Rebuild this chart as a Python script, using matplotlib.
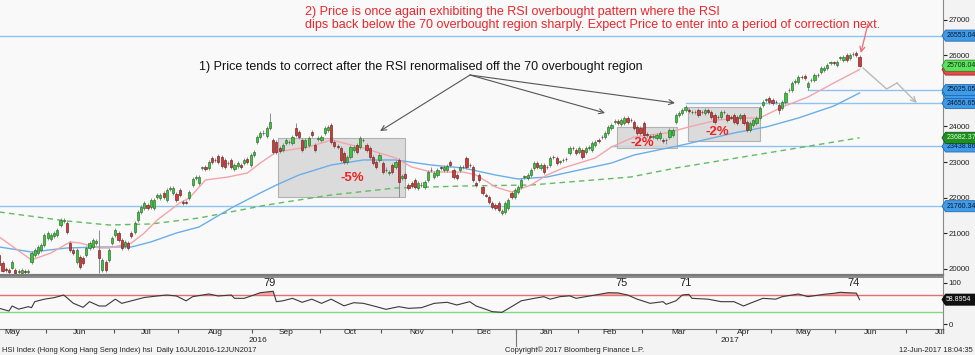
import numpy as np
import pandas as pd
import matplotlib
matplotlib.use('Agg')
import matplotlib.pyplot as plt
from matplotlib.path import Path
import matplotlib.transforms as mtrans

# ---------------- data ----------------
opens = [20390, 20170, 19990, 19960, 20030, 19970, 19920, 19890, 19930, 19910,
         20190, 20390, 20450, 20530, 20670, 20870, 20840, 20920, 20950, 21230,
         21350, 21290, 20730, 20530, 20190, 20330, 20310, 20390, 20590, 20620,
         20730, 20530, 19970, 20190, 20250, 20730, 20950, 21010, 20810, 20640,
         20730, 21010, 21040, 21370, 21600, 21710, 21800, 21740, 21710, 22020,
         21990, 22130, 21940, 22240, 22130, 22100, 22220, 21870, 21880, 21990,
         22360, 22550, 22410, 22830, 22860, 22830, 23110, 23060, 23170, 23140,
         23060, 22970, 23060, 22810, 22890, 22920, 22970, 23090, 22920, 23200,
         23560, 23700, 23810, 23730, 23960, 23620, 23560, 23400, 23340, 23540,
         23570, 23540, 23960, 23850, 23620, 23420, 23480, 23850, 23480, 23650,
         23620, 23820, 23900, 24040, 23560, 23440, 23400, 23260, 23000, 23140,
         23340, 23480, 23420, 23630, 23480, 23400, 23140, 23000, 23060, 22970,
         22790, 22690, 22920, 22860, 23060, 22550, 22670, 22360, 22410, 22500,
         22270, 22370, 22300, 22500, 22790, 22580, 22640, 22840, 22780, 22780,
         23000, 22780, 22640, 22780, 22870, 23120, 22920, 22860, 22410, 22640,
         22300, 22080, 22020, 21850, 21800, 21850, 21570, 21600, 21710, 22130,
         22020, 22160, 22300, 22580, 22550, 22640, 22830, 22970, 22830, 22920,
         22870, 22920, 23140, 23110, 23000, 23060, 23090, 23260, 23400, 23340,
         23280, 23340, 23280, 23390, 23340, 23480, 23620, 23710, 23700, 23820,
         23960, 24130, 24150, 24070, 24100, 24240, 24190, 24130, 23990, 23960,
         24100, 23780, 23720, 23700, 23680, 23680, 23620, 23630, 23700, 23760,
         24130, 24320, 24380, 24460, 24460, 24410, 24400, 24460, 24410, 24380,
         24460, 24410, 24320, 24270, 24270, 24410, 24320, 24270, 24320, 24270,
         24240, 24320, 24130, 23900, 24040, 24100, 24240, 24600, 24740, 24800,
         24740, 24690, 24600, 24520, 24690, 25020, 25020, 25250, 25250, 25390,
         25420, 25110, 25300, 25300, 25450, 25530, 25590, 25640, 25780, 25790,
         25730, 25920, 25870, 26010, 25920, 26030, 26060, 25950]

closes = [20110, 19950, 19960, 19910, 20190, 19890, 19940, 19970, 19910, 19940,
          20450, 20530, 20610, 20670, 20950, 21010, 20950, 21010, 21090, 21370,
          21370, 21040, 20530, 20450, 20530, 20050, 20170, 20590, 20730, 20810,
          20780, 20310, 20250, 19970, 20530, 20870, 21090, 20810, 20590, 20760,
          20590, 20920, 21290, 21600, 21740, 21850, 21710, 21940, 21940, 22080,
          22080, 22020, 22220, 22270, 22270, 21940, 22080, 21840, 21860, 22160,
          22530, 22570, 22580, 22840, 22810, 23000, 23000, 23050, 23000, 22890,
          22860, 22980, 22860, 22920, 22970, 22860, 23060, 23000, 23200, 23280,
          23700, 23820, 23830, 23960, 24130, 23280, 23280, 23300, 23480, 23620,
          23560, 23700, 23760, 23700, 23340, 23620, 23680, 23760, 23340, 23680,
          23700, 23960, 23990, 23560, 23450, 23420, 23060, 23000, 23140, 23420,
          23420, 23280, 23680, 23610, 23340, 23140, 22970, 22860, 23200, 22720,
          22770, 22720, 22720, 23000, 22440, 22610, 22550, 22270, 22330, 22300,
          22410, 22350, 22440, 22720, 22770, 22690, 22780, 22830, 22860, 22890,
          22920, 22580, 22550, 22860, 22850, 22860, 22910, 22500, 22360, 22500,
          22130, 22060, 21880, 21740, 21710, 21650, 21620, 21850, 21940, 22020,
          22220, 22300, 22500, 22590, 22640, 22780, 22970, 22860, 22920, 22720,
          22850, 23120, 23130, 22970, 23010, 23050, 23080, 23400, 23390, 23260,
          23400, 23140, 23400, 23430, 23540, 23560, 23590, 23700, 23820, 23990,
          24040, 24150, 24100, 24180, 24240, 24130, 24170, 23960, 23820, 23820,
          23760, 23750, 23700, 23730, 23760, 23820, 23590, 23610, 23900, 23900,
          24320, 24380, 24460, 24550, 24430, 24400, 24410, 24320, 24400, 24460,
          24410, 24270, 24130, 24260, 24410, 24400, 24180, 24250, 24130, 24100,
          24320, 24100, 23900, 24100, 24180, 24240, 24520, 24690, 24750, 24690,
          24660, 24680, 24460, 24690, 24940, 25030, 25220, 25280, 25390, 25380,
          25360, 25220, 25310, 25450, 25440, 25640, 25640, 25730, 25790, 25780,
          25810, 25930, 25950, 25870, 26010, 26040, 26010, 25708]

highs = [20450, 20230, 20060, 20020, 20240, 20030, 19990, 20030, 19990, 19990,
         20500, 20590, 20660, 20720, 21000, 21060, 21010, 21060, 21150, 21440,
         21430, 21340, 20790, 20590, 20580, 20390, 20370, 20640, 20780, 20860,
         20840, 21090, 20300, 20250, 20580, 20920, 21140, 21060, 20860, 20810,
         20780, 21070, 21340, 21650, 21790, 21900, 21850, 21990, 21990, 22140,
         22130, 22180, 22270, 22320, 22320, 22150, 22270, 21930, 21940, 22210,
         22580, 22630, 22630, 22900, 22920, 23050, 23160, 23120, 23220, 23190,
         23110, 23040, 23110, 22970, 23020, 22970, 23110, 23140, 23250, 23330,
         23750, 23870, 23890, 24010, 24380, 23670, 23610, 23450, 23530, 23670,
         23630, 23750, 24100, 23900, 23670, 23670, 23730, 23900, 23530, 23740,
         23750, 24010, 24040, 24090, 23610, 23500, 23450, 23310, 23190, 23470,
         23470, 23530, 23730, 23690, 23530, 23450, 23190, 23050, 23250, 23020,
         22850, 22780, 22970, 23050, 23110, 22660, 22720, 22410, 22460, 22550,
         22460, 22430, 22490, 22770, 22850, 22740, 22830, 22900, 22910, 22940,
         23050, 22830, 22690, 22910, 22930, 23170, 22980, 22910, 22470, 22690,
         22350, 22140, 22070, 21900, 21850, 21900, 21670, 21900, 21990, 22180,
         22270, 22350, 22550, 22650, 22690, 22830, 23020, 23020, 22970, 22970,
         22930, 23170, 23200, 23160, 23070, 23120, 23150, 23450, 23460, 23390,
         23450, 23390, 23450, 23490, 23590, 23610, 23680, 23770, 23870, 24040,
         24090, 24210, 24200, 24230, 24290, 24290, 24250, 24180, 24040, 24010,
         24150, 23840, 23780, 23790, 23810, 23870, 23680, 23690, 23950, 23950,
         24370, 24430, 24510, 24600, 24520, 24470, 24470, 24510, 24470, 24510,
         24510, 24460, 24370, 24330, 24460, 24470, 24370, 24330, 24370, 24320,
         24370, 24370, 24180, 24150, 24230, 24290, 24570, 24740, 24810, 24850,
         24790, 24750, 24650, 24740, 24990, 25090, 25270, 25330, 25440, 25450,
         25470, 25270, 25370, 25500, 25510, 25690, 25690, 25780, 25850, 25850,
         25860, 25990, 26000, 26060, 26060, 26100, 26110, 26000]

lows = [20060, 19900, 19900, 19860, 19990, 19840, 19870, 19850, 19860, 19850,
        20150, 20340, 20400, 20480, 20620, 20820, 20790, 20870, 20900, 21180,
        21290, 20990, 20470, 20390, 20130, 19990, 20110, 20340, 20540, 20570,
        20680, 19880, 19920, 19910, 20200, 20680, 20900, 20760, 20540, 20590,
        20540, 20870, 20990, 21320, 21550, 21660, 21660, 21690, 21660, 21970,
        21940, 21970, 21890, 22190, 22080, 21890, 22030, 21790, 21810, 21940,
        22310, 22500, 22360, 22780, 22760, 22780, 22950, 23000, 22950, 22840,
        22810, 22920, 22810, 22760, 22840, 22810, 22920, 22950, 22870, 23150,
        23510, 23650, 23760, 23680, 23910, 23230, 23230, 23250, 23290, 23490,
        23510, 23490, 23710, 23650, 23290, 23370, 23430, 23710, 23290, 23600,
        23570, 23770, 23850, 23510, 23400, 23370, 23010, 22950, 22950, 23090,
        23290, 23230, 23370, 23560, 23290, 23090, 22920, 22810, 23010, 22670,
        22720, 22640, 22670, 22810, 22020, 22500, 22500, 22220, 22280, 22250,
        22220, 22300, 22250, 22450, 22720, 22530, 22590, 22780, 22730, 22730,
        22870, 22530, 22500, 22730, 22800, 22810, 22860, 22450, 22310, 22450,
        22080, 22010, 21830, 21690, 21660, 21600, 21520, 21550, 21660, 21970,
        21970, 22110, 22250, 22530, 22500, 22590, 22780, 22810, 22780, 22670,
        22800, 22870, 23080, 22920, 22950, 23000, 23030, 23210, 23340, 23210,
        23230, 23090, 23230, 23340, 23290, 23430, 23540, 23650, 23650, 23770,
        23910, 24080, 24050, 24020, 24050, 24080, 24120, 23910, 23770, 23770,
        23710, 23700, 23650, 23650, 23630, 23630, 23540, 23500, 23650, 23710,
        24080, 24270, 24330, 24410, 24380, 24350, 24350, 24270, 24350, 24330,
        24360, 24220, 24080, 24210, 24220, 24350, 24130, 24200, 24080, 24050,
        24190, 24050, 23850, 23850, 23990, 24050, 24190, 24550, 24690, 24640,
        24610, 24630, 24360, 24470, 24640, 24970, 24970, 25200, 25200, 25330,
        25310, 25025, 25250, 25250, 25390, 25480, 25540, 25590, 25730, 25730,
        25680, 25870, 25820, 25820, 25870, 25980, 25960, 25670]

first_day = '2016-05-11'
hk_holidays = ['2016-05-02', '2016-06-09', '2016-07-01', '2016-09-16', '2016-10-10',
               '2016-10-21', '2016-12-26', '2016-12-27', '2017-01-02', '2017-01-30',
               '2017-01-31', '2017-04-04', '2017-04-14', '2017-04-17', '2017-05-01',
               '2017-05-03', '2017-05-30']

# moving averages (trading-day index, value)
ma_fast_idx = [0, 10, 16, 22, 25, 31, 34, 41, 45, 49, 56, 59, 64, 71, 77, 81, 86, 90, 96, 103,
               113, 123, 128, 134, 144, 148, 154, 159, 165, 170, 175, 180, 185, 190, 197, 207,
               214, 223, 231, 236, 243, 251, 259, 267]
ma_fast_val = [20896, 20250, 20446, 20755, 20727, 20587, 20587, 20727, 21008, 21373, 21851, 21991,
               22497, 22581, 22693, 22974, 23283, 23340, 23424, 23620, 23396, 23115, 22862, 22721,
               22721, 22637, 22300, 22160, 22356, 22637, 22834, 22974, 23115, 23424, 23705, 23817,
               23986, 24182, 24238, 24238, 24547, 24828, 25222, 25600]
ma_mid_idx = [0, 10, 21, 31, 41, 47, 55, 62, 72, 81, 86, 93, 103, 113, 123, 134, 144, 154, 161,
              170, 180, 190, 197, 212, 228, 238, 248, 259, 267]
ma_mid_val = [20615, 20474, 20587, 20615, 20615, 20755, 21008, 21177, 21710, 22132, 22356, 22637,
              22918, 23059, 23059, 22918, 22834, 22637, 22525, 22581, 22778, 22974, 23199, 23480,
              23817, 23986, 24238, 24575, 24941]
ma_slow_idx = [0, 21, 34, 47, 62, 83, 103, 123, 144, 165, 196, 210, 267]
ma_slow_val = [21598, 21345, 21233, 21261, 21429, 21795, 22076, 22272, 22328, 22356, 22581, 22834,
               23682.37]

rsi_idx = [0, 3, 4, 6, 9, 10, 11, 14, 17, 20, 23, 26, 28, 31, 33, 36, 38, 41, 45, 49, 52, 55, 58,
           60, 65, 68, 72, 73, 76, 79, 81, 85, 86, 88, 91, 94, 97, 100, 103, 107, 110, 113, 117,
           120, 124, 127, 131, 135, 139, 142, 146, 148, 151, 153, 156, 159, 162, 166, 169, 171,
           174, 177, 179, 182, 185, 189, 192, 195, 198, 202, 206, 207, 210, 212, 214, 215, 220,
           224, 228, 231, 233, 237, 241, 243, 248, 251, 256, 259, 261, 263, 266, 267]
rsi_val = [38, 31.6, 43.6, 36, 42, 39.6, 54, 60, 63.6, 70, 50, 40.5, 54, 43.6, 43.6, 60, 50, 56,
           64, 67.6, 70, 67.6, 56, 66, 72.4, 67.6, 70, 62, 62, 70, 75.5, 79, 54, 56, 62, 52.5, 60,
           50, 60, 44, 51.5, 50, 42, 35.6, 42, 38, 39.6, 50, 52.5, 46, 54, 43.6, 35.6, 30, 28.4,
           42, 56, 62, 66, 60, 66, 68, 62, 66, 70, 75.5, 75, 70, 60, 50, 54, 47.7, 56, 70, 71.5,
           62, 60, 54, 54, 43.6, 50, 62, 60, 66, 72.4, 66, 71.7, 74, 76.5, 75.5, 74.5, 58.8954]
rsi_peak_idx = [84, 193, 213, 265]
rsi_peak_txt = ['79', '75', '71', '74']

levels = [26553.04, 25025.05, 24656.65, 23438.86, 21760.34]
level_start = [None, 251, 213, 190, None]

boxes = [(86.5, 125.9, 22019, 23677, '-5%', 109.5, 22553),
         (191.7, 210.3, 23396, 23986, '-2%', 199.5, 23536),
         (213.7, 236.1, 23592, 24547, '-2%', 223.0, 23845)]

note1 = '1) Price tends to correct after the RSI renormalised off the 70 overbought region'
note2 = ['2) Price is once again exhibiting the RSI overbought pattern where the RSI',
         'dips back below the 70 overbought region sharply. Expect Price to enter into a period of correction next.']
footer_left = 'HSI Index (Hong Kong Hang Seng Index) hsi  Daily 16JUL2016-12JUN2017'
footer_mid = 'Copyright\u00a9 2017 Bloomberg Finance L.P.'
footer_right = '12-Jun-2017 18:04:35'

# ---------------- figure ----------------
plt.rcParams['font.family'] = ['Liberation Sans', 'DejaVu Sans']
W, H = 975, 355
fig = plt.figure(figsize=(W / 100, H / 100), dpi=100)
fig.patch.set_facecolor('#f3f3f3')


def fax(l, t, r, b):
    return [l / W, 1 - b / H, (r - l) / W, (b - t) / H]


ax = fig.add_axes(fax(0, 0, 943, 275))
ax2 = fig.add_axes(fax(0, 277, 943, 329), sharex=ax)
for a in (ax, ax2):
    a.set_facecolor('#f9f9f9')
    a.spines['left'].set_visible(False)
    a.spines['top'].set_visible(False)
    a.spines['right'].set_color('#8a8a8a')
    a.spines['bottom'].set_color('#7a7a7a')
ax.spines['bottom'].set_linewidth(1.6)
ax2.spines['top'].set_visible(True)
ax2.spines['top'].set_color('#7a7a7a')
ax2.spines['top'].set_linewidth(1.2)

x = np.arange(len(closes))
o = np.array(opens, float)
c = np.array(closes, float)
hi = np.array(highs, float)
lo = np.array(lows, float)

# level lines
for lv, st in zip(levels, level_start):
    x0 = -5 if st is None else st
    ax.plot([x0, 300], [lv, lv], color='#8ec3ef', lw=1.0, zorder=1)

# boxes
for (bx0, bx1, by0, by1, txt, tx, ty) in boxes:
    ax.add_patch(plt.Rectangle((bx0, by0), bx1 - bx0, by1 - by0, facecolor='#d6d6d6',
                               edgecolor='#a8a8a8', lw=0.8, alpha=0.85, zorder=1.5))
    ax.text(tx, ty, txt, color='#ee2222', fontsize=9.5, fontweight='bold', ha='center',
            va='center', zorder=6)

# moving averages
ax.plot(ma_slow_idx, ma_slow_val, color='#62bb62', lw=1.0, dashes=(4, 3), zorder=2)
ax.plot(ma_mid_idx, ma_mid_val, color='#6aaee8', lw=1.0, zorder=2)
ax.plot(ma_fast_idx, ma_fast_val, color='#f4a3ab', lw=1.0, zorder=2)

# candles
ax.vlines(x, lo, hi, color='#8c8c8c', lw=0.7, zorder=3)
up = c >= o
bot = np.minimum(o, c)
hgt = np.maximum(np.abs(c - o), 18)
ax.bar(x[up], hgt[up], bottom=bot[up], width=0.68, color='#3cc43c', edgecolor='#2a6a2a',
       lw=0.45, zorder=4)
ax.bar(x[~up], hgt[~up], bottom=bot[~up], width=0.68, color='#d03c38', edgecolor='#6a2020',
       lw=0.45, zorder=4)

ax.set_xlim(0.22, 292.9)
ax.set_ylim(19828, 27553)

# annotations
origin = (146.1, 25446)
for tgt in [(118.2, 23873), (188.0, 24379), (209.7, 24660)]:
    ax.annotate('', xy=tgt, xytext=origin,
                arrowprops=dict(arrowstyle='->', color='#555555', lw=0.8, shrinkA=0,
                                shrinkB=0, mutation_scale=9), zorder=6)
ax.text(130.9, 25671, note1, fontsize=9, ha='center', va='center', color='#111111', zorder=7)
ax.text(94.9, 27216, note2[0], fontsize=9, ha='left', va='center', color='#e8262b', zorder=7)
ax.text(94.9, 26851, note2[1], fontsize=9, ha='left', va='center', color='#e8262b', zorder=7)
ax.annotate('', xy=(267.4, 26064), xytext=(269.6, 26880),
            arrowprops=dict(arrowstyle='->', color='#f06a78', lw=0.9, shrinkA=0, shrinkB=0,
                            mutation_scale=9), zorder=6)
ax.plot([268.1, 275.4, 278.6], [25643, 25053, 25222], color='#b9b9b9', lw=1.0, zorder=5)
ax.annotate('', xy=(284.8, 24660), xytext=(278.6, 25222),
            arrowprops=dict(arrowstyle='->', color='#b9b9b9', lw=1.0, shrinkA=0, shrinkB=0,
                            mutation_scale=9), zorder=5)

# price axis (right)
ax.yaxis.tick_right()
ax.set_yticks([20000, 21000, 22000, 23000, 24000, 25000, 26000, 27000])
ax.set_yticklabels(['20000', '21000', '22000', '23000', '24000', '', '26000', '27000'])
ax.tick_params(axis='y', direction='out', length=3, width=0.8, color='#222222', labelsize=5.6,
               labelcolor='#222222', pad=1.2)
ax.tick_params(axis='x', bottom=False, labelbottom=False)


def tag_style(x0, y0, width, height, mutation_size):
    padx = 0.1 * mutation_size
    pady = 0.3 * mutation_size
    x0 -= padx
    y0 -= pady
    width += 2 * padx
    height += 2 * pady
    tip = height * 0.32
    verts = [(x0 - tip, y0 + height / 2), (x0, y0 + height), (x0 + width + 20, y0 + height),
             (x0 + width + 20, y0), (x0, y0), (x0 - tip, y0 + height / 2)]
    return Path(verts, closed=True)


def tag(axis, val, txt, fc, tc, ec, z):
    axis.annotate(txt, xy=(1.0, val), xycoords=('axes fraction', 'data'), xytext=(2.3, 0),
                  textcoords='offset points', ha='left', va='center', fontsize=5.0, color=tc,
                  bbox=dict(boxstyle=tag_style, fc=fc, ec=ec, lw=0.5), zorder=z,
                  annotation_clip=False)


blank = '\u2007' * 8
blue_fc, blue_ec = '#3f9ae8', '#1b5f9e'
tag(ax, 21760.34, '21760.34', blue_fc, '#0a1a30', blue_ec, 10)
tag(ax, 23438.86, '23438.86', blue_fc, '#0a1a30', blue_ec, 10)
tag(ax, 23682.37, '23682.37', '#1f8f1f', '#d8ffd8', '#0d4d0d', 11)
tag(ax, 24656.65, '24656.65', blue_fc, '#0a1a30', blue_ec, 10)
tag(ax, 24941, blank, blue_fc, '#0a1a30', blue_ec, 11)
tag(ax, 25025.05, '25025.05', blue_fc, '#0a1a30', blue_ec, 12)
tag(ax, 25600, blank, '#e84848', '#300000', '#8a1c1c', 11)
tag(ax, 25708.04, '25708.04', '#5ee05e', '#0a300a', '#237a23', 12)
tag(ax, 26553.04, '26553.04', blue_fc, '#0a1a30', blue_ec, 10)

# ---------------- RSI panel ----------------
ri = np.array(rsi_idx, float)
rv = np.array(rsi_val, float)
ax2.axhline(70, color='#e36f6f', lw=1.0, zorder=1)
ax2.axhline(30, color='#7fd97f', lw=1.0, zorder=1)
ax2.fill_between(ri, rv, 70, where=rv > 70, interpolate=True, color='#f4a4a4', lw=0, zorder=2)
ax2.plot(ri, rv, color='#3a3a3a', lw=0.8, zorder=3)
for pi, pt in zip(rsi_peak_idx, rsi_peak_txt):
    ax2.text(pi, 99, pt, fontsize=8, ha='center', va='center', color='#222222')
ax2.set_ylim(-11.6, 113.2)
ax2.yaxis.tick_right()
ax2.set_yticks([0, 50, 100])
ax2.set_yticklabels(['0', '', '100'])
ax2.tick_params(axis='y', direction='out', length=3, width=0.8, color='#222222', labelsize=5.6,
                labelcolor='#222222', pad=1.2)
tag(ax2, rsi_val[-1], '58.8954', '#111111', '#ffffff', '#000000', 12)

# month ticks / labels
tdays = pd.bdate_range('2016-05-02', '2017-07-31')
tdays = tdays[~tdays.isin(pd.to_datetime(hk_holidays))]
start = list(tdays).index(pd.Timestamp(first_day))
pos = np.arange(len(tdays)) - start
months = tdays.to_period('M')
firsts = [pos[i] for i in range(len(tdays)) if i == 0 or months[i] != months[i - 1]]
mnames = [tdays[i].strftime('%b') for i in range(len(tdays)) if i == 0 or months[i] != months[i - 1]]
bounds = [f - 0.5 for f in firsts] + [pos[-1] + 0.5]
ax2.set_xticks(bounds[1:-1])
ax2.tick_params(axis='x', direction='out', length=3, width=0.8, color='#555555',
                labelbottom=False)
bt = mtrans.blended_transform_factory(ax2.transData, fig.transFigure)
xl0, xl1 = ax.get_xlim()
for k, nm in enumerate(mnames):
    cx = (bounds[k] + bounds[k + 1]) / 2
    if xl0 <= cx <= xl1:
        ax2.text(cx, 1 - 332 / H, nm, transform=bt, fontsize=6, ha='center', va='center',
                 color='#222222')
jan = [b for b, nm in zip(bounds, mnames) if nm == 'Jan'][0]
ax2.text((xl0 + jan) / 2, 1 - 341 / H, '2016', transform=bt, fontsize=6, ha='center',
         va='center', color='#222222')
ax2.text((jan + xl1) / 2, 1 - 341 / H, '2017', transform=bt, fontsize=6, ha='center',
         va='center', color='#222222')
ax2.plot([jan, jan], [1 - 329 / H, 1 - 346 / H], transform=bt, color='#777777', lw=0.8,
         clip_on=False)

fig.text(2 / W, 1 - 350 / H, footer_left, fontsize=5.4, ha='left', va='center', color='#222222')
fig.text(505 / W, 1 - 350 / H, footer_mid, fontsize=5.4, ha='left', va='center', color='#222222')
fig.text(973 / W, 1 - 350 / H, footer_right, fontsize=5.4, ha='right', va='center',
         color='#222222')

fig.savefig('out.png', dpi=100, facecolor=fig.get_facecolor())
